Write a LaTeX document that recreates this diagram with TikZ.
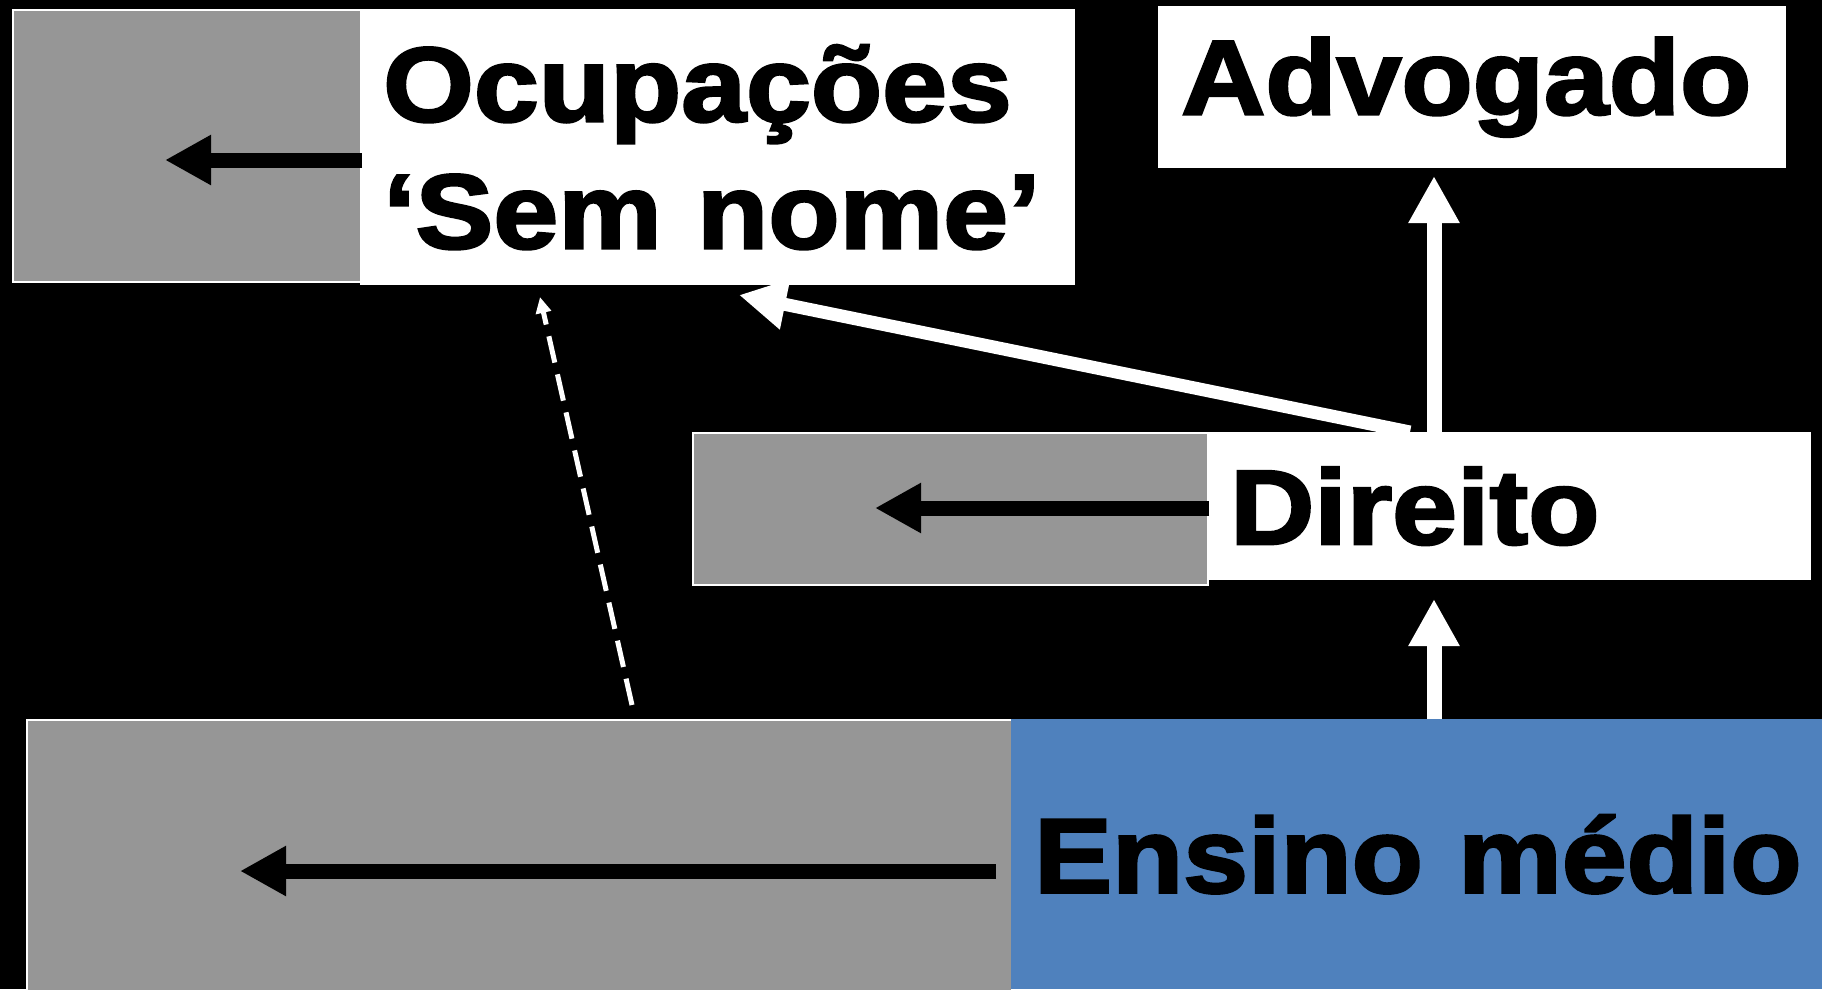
\documentclass[tikz,border=0pt]{standalone}
\usepackage{fontspec}
\setmainfont{Liberation Sans}[FakeStretch=1.1, BoldFeatures={FakeBold=2.5}]
\usetikzlibrary{arrows.meta}
\definecolor{boxgray}{RGB}{150,150,150}
\definecolor{boxblue}{RGB}{79,129,189}
\tikzset{
  graybox/.style={fill=boxgray, draw=white, line width=2pt, anchor=north west, inner sep=0pt},
  whitebox/.style={fill=white, anchor=north west, inner xsep=23pt, inner ysep=0pt, align=left,
    font=\bfseries\fontsize{106}{127}\selectfont},
  blkarrow/.style={draw=black, line width=15pt, -{Triangle[length=46pt,width=47pt]}},
  wtarrow/.style={draw=white, line width=15pt, -{Triangle[length=47pt,width=48pt]}},
  dasharrow/.style={draw=white, line width=5pt, dash pattern=on 27pt off 12pt,
    -{Triangle[length=16pt,width=15pt]}}
}
\begin{document}
\begin{tikzpicture}[x=1pt, y=-1pt]
  \useasboundingbox[fill=black] (0,0) rectangle (1822,989);
  % top row
  \node[graybox, minimum width=348pt, minimum height=272pt] (ocupGray) at (12,9) {};
  \node[whitebox, minimum width=715pt, minimum height=276pt, text width=669pt] (ocup) at (360,9) {Ocupações\\‘Sem nome’};
  \node[whitebox, minimum width=628pt, minimum height=162pt, text width=582pt] (adv) at (1158,6) {Advogado};
  % middle row
  \node[graybox, minimum width=515pt, minimum height=152pt] (dirGray) at (692,432) {};
  \node[whitebox, minimum width=604pt, minimum height=148pt, text width=558pt] (dir) at (1207,432) {Direito};
  % bottom row
  \node[graybox, minimum width=985pt, minimum height=290pt] (ensGray) at (26,719) {};
  \node[whitebox, fill=boxblue, minimum width=811pt, minimum height=270pt, text width=790pt] (ens) at (1011,719) {Ensino médio};
  % arrows inside the gray boxes
  \coordinate (ocupTip) at (165,160);
  \coordinate (dirTip) at (875,508);
  \coordinate (ensStart) at (996,871);
  \coordinate (ensTip) at (240,871);
  \draw[blkarrow] (ocupTip -| ocupGray.east) -- (ocupTip);
  \draw[blkarrow] (dirTip -| dirGray.east) -- (dirTip);
  \draw[blkarrow] (ensStart) -- (ensTip);
  % white arrows between the rows
  \coordinate (advTip) at (1434,176);
  \coordinate (dirUpTip) at (1434,599);
  \coordinate (diagStart) at (1410,432);
  \coordinate (ocupDiagTip) at (739,295);
  \coordinate (dashStart) at (632,705);
  \coordinate (dashTip) at (540,297);
  \draw[wtarrow] (advTip |- dir.north) -- (advTip);
  \draw[wtarrow] (dirUpTip |- ens.north) -- (dirUpTip);
  \draw[wtarrow, line width=13pt] (diagStart) -- (ocupDiagTip);
  \draw[dasharrow] (dashStart) -- (dashTip);
\end{tikzpicture}
\end{document}
